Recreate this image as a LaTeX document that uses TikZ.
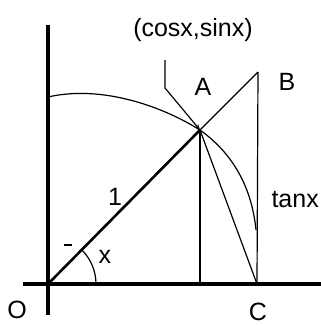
\documentclass[tikz,border=0pt]{standalone}
\usepackage{fontspec}
\setmainfont{Liberation Sans}
\usetikzlibrary{arrows.meta}
\begin{document}
\begin{tikzpicture}[x=1pt,y=1pt,
  axis/.style={line width=3.6pt},
  radius line/.style={line width=2.6pt},
  thin line/.style={line width=1.2pt},
  lbl/.style={inner sep=0pt,font=\fontsize{25}{25}\selectfont}]
\useasboundingbox (0,0) rectangle (321,325);
\coordinate (O) at (48,41);
\coordinate (A) at (200,195);
\coordinate (B) at (258,253);
\coordinate (C) at (257,41);
\coordinate (Atop) at (200,41);
\coordinate (ytop) at (48,300);
\coordinate (ybot) at (48,10);
\coordinate (xleft) at (23,41);
\coordinate (xright) at (321,41);
\coordinate (arcstart) at (48,228);
\coordinate (arcend) at (256,95);
\coordinate (lead1) at (165,265);
\coordinate (lead2) at (165,237);
% axes
\draw[axis] (ybot) -- (ytop);
\draw[axis] (xleft) -- (xright);
% unit circle arc
\draw[thin line] (arcstart) .. controls (100,240) and (160,220) .. (A)
  .. controls (235,170) and (252,135) .. (arcend);
% radius and extension
\draw[radius line] (O) -- (A);
\draw[thin line] (A) -- (B);
\draw[thin line] (B) -- (C);
\draw[thin line] (A) -- (Atop);
\draw[thin line] (A) -- (C);
% angle
\draw[thin line] (96,41) arc (0:45:48);
\draw[thin line] (64,80) -- (72,80);
% leader
\draw[thin line,-{Stealth[length=6pt,width=5pt]}] (lead1) -- (lead2) -- (A);
% labels
\node[lbl] (lcs) at (193,295) {(cosx,sinx)};
\node[lbl] (lA) at (203,238) {A};
\node[lbl] (lB) at (287,243) {B};
\node[lbl,anchor=east] (ltan) at (319,125) {tanx};
\node[lbl] (l1) at (115,128) {1};
\node[lbl] (lx) at (105,68) {x};
\node[lbl] (lO) at (17,15) {O};
\node[lbl] (lC) at (258,13) {C};
\end{tikzpicture}
\end{document}
